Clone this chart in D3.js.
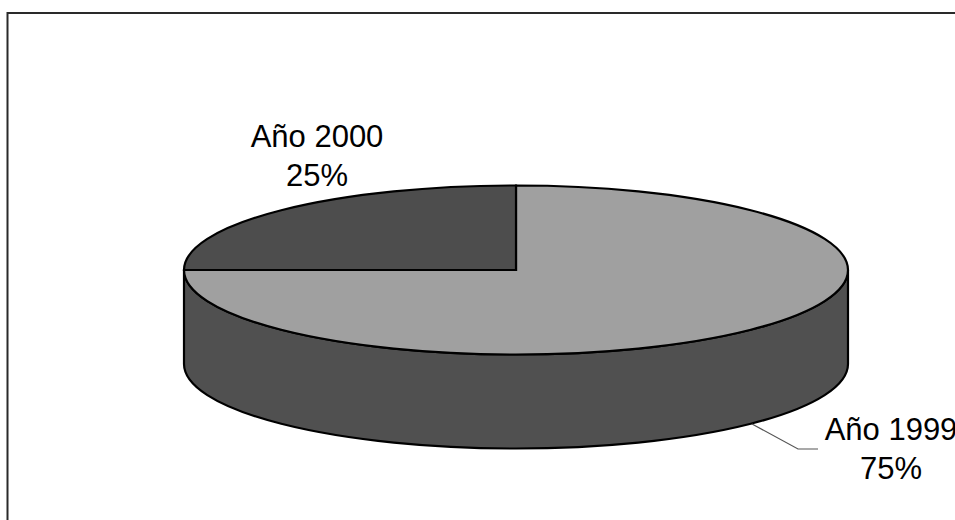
<!DOCTYPE html>
<html>
<head>
<meta charset="utf-8">
<script src="https://cdn.jsdelivr.net/npm/d3@7"></script>
<style>
  html, body { margin: 0; padding: 0; background: #fff; }
  svg { display: block; }
</style>
</head>
<body>
<svg id="chart" width="955" height="520"></svg>
<script>
// ---- data ----
const categories = ["Año 1999", "Año 2000"];
const values = [75, 25];
const topColors = ["#A0A0A0", "#4D4D4D"];
const sideColors = ["#505050", "#404040"];

// ---- layout ----
const W = 955, H = 520;
const cx = 516, cy = 270, rx = 332, ry = 84.5, depth = 94;
const labelPos = [
  { x: 891, y: 440 },   // Año 1999
  { x: 317, y: 147 }    // Año 2000
];
const lineGap = 39;

const svg = d3.select("#chart");

// frame
svg.append("rect")
  .attr("x", 7.5).attr("y", 13)
  .attr("width", W + 20).attr("height", H + 20)
  .attr("fill", "#fff")
  .attr("stroke", "#2a2a2a")
  .attr("stroke-width", 2);

const pie = d3.pie().sort(null).value(d => d.v);
const arcs = pie(categories.map((c, i) => ({ c, v: values[i], i })));

const px = a => cx + rx * Math.sin(a);
const py = a => cy - ry * Math.cos(a);

const g = svg.append("g");

// sides (front half only: angles PI/2 .. 3PI/2)
arcs.forEach(d => {
  const s0 = Math.max(d.startAngle, Math.PI / 2);
  const s1 = Math.min(d.endAngle, 3 * Math.PI / 2);
  if (s1 <= s0) return;
  const large = (s1 - s0) > Math.PI ? 1 : 0;
  const p = `M${px(s0)},${py(s0)}` +
    ` A${rx},${ry} 0 ${large} 1 ${px(s1)},${py(s1)}` +
    ` L${px(s1)},${py(s1) + depth}` +
    ` A${rx},${ry} 0 ${large} 0 ${px(s0)},${py(s0) + depth} Z`;
  g.append("path")
    .attr("d", p)
    .attr("fill", sideColors[d.data.i])
    .attr("stroke", "#000")
    .attr("stroke-width", 2.2)
    .attr("stroke-linejoin", "round");
});

// tops
arcs.forEach(d => {
  const a0 = d.startAngle, a1 = d.endAngle;
  const large = (a1 - a0) > Math.PI ? 1 : 0;
  const p = `M${cx},${cy} L${px(a0)},${py(a0)}` +
    ` A${rx},${ry} 0 ${large} 1 ${px(a1)},${py(a1)} Z`;
  g.append("path")
    .attr("d", p)
    .attr("fill", topColors[d.data.i])
    .attr("stroke", "#000")
    .attr("stroke-width", 2.2)
    .attr("stroke-linejoin", "miter");
});

// leader line for Año 1999
svg.append("polyline")
  .attr("points", [
    [752, 424],
    [798, 449],
    [818, 449]
  ].map(p => p.join(",")).join(" "))
  .attr("fill", "none")
  .attr("stroke", "#555")
  .attr("stroke-width", 1.2);

// labels
const fmt = d3.format(".0%");
const total = d3.sum(values);
arcs.forEach(d => {
  const lp = labelPos[d.data.i];
  const t = svg.append("text")
    .attr("text-anchor", "middle")
    .attr("font-family", "'Liberation Sans', Arial, sans-serif")
    .attr("font-size", 31)
    .attr("fill", "#000");
  t.append("tspan").attr("x", lp.x).attr("y", lp.y).text(d.data.c);
  t.append("tspan").attr("x", lp.x).attr("y", lp.y + lineGap).text(fmt(d.data.v / total));
});
</script>
</body>
</html>
